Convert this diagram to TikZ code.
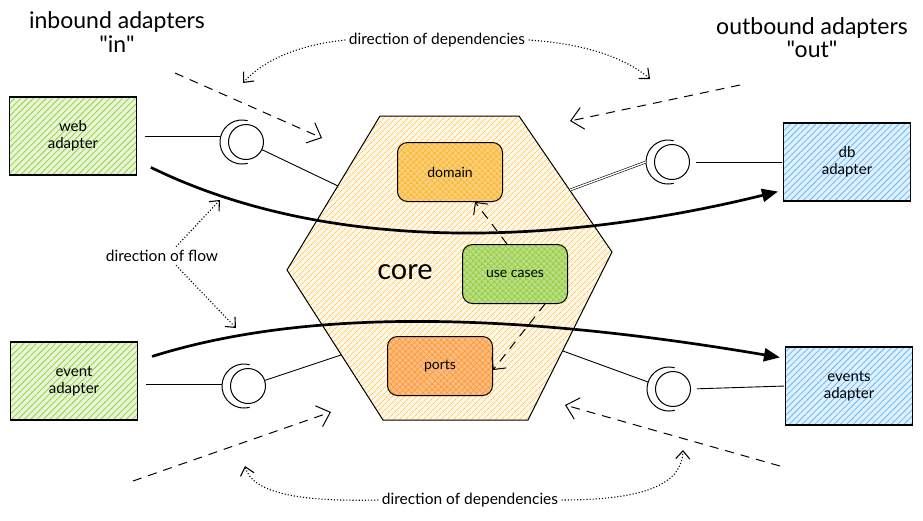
\documentclass[tikz,border=0pt]{standalone}
\usepackage{fontspec}
\setmainfont{Lato}
\newfontfamily\plainlato{Lato}
\usepackage{tikz}
\usetikzlibrary{arrows.meta,positioning,patterns.meta}
\definecolor{leaf}{HTML}{82C91E}
\definecolor{sky}{HTML}{4DABF7}
\definecolor{sand}{HTML}{FFC34A}
\definecolor{gold}{HTML}{F9B52E}
\definecolor{lime}{HTML}{94CC3E}
\definecolor{tang}{HTML}{FA9838}

\tikzset{
  txt/.style={font=\fontsize{15.5}{17}\selectfont},
  head/.style={font=\fontsize{23}{25}\selectfont},
  adapter/.style={draw,line width=1.1pt,minimum width=127pt,minimum height=78pt,
    align=center,font=\fontsize{15}{17}\selectfont,preaction={fill=#1!18},
    pattern={Lines[angle=45,distance=4.5pt,line width=0.8pt]},pattern color=#1!85},
  part/.style={draw,line width=1pt,rounded corners=10pt,minimum width=105pt,
    minimum height=59pt,font=\fontsize{14}{16}\selectfont,preaction={fill=#1!65},
    pattern={Hatch[angle=45,distance=4pt,line width=0.7pt]},pattern color=#1},
  plug/.style={draw,circle,minimum size=35pt,inner sep=0pt,line width=1pt},
  socket/.style={line width=1pt},
  wire/.style={line width=0.9pt},
  flow/.style={line width=2.7pt,-{Triangle[length=16pt,width=13pt]}},
  dep/.style={line width=1pt,dash pattern=on 9pt off 7pt,
    -{Straight Barb[length=12pt,width=22pt]}},
  hint/.style={line width=1.1pt,dotted,-{Straight Barb[length=8pt,width=14pt]}},
}

\begin{document}
\begin{tikzpicture}[x=1pt,y=-1pt]
\useasboundingbox (0,0) rectangle (923,520);

\node[head] (tin) at (117,22) {inbound adapters};
\node[head,below=-4pt of tin] (qin) {\plainlato "in"};
\node[head] (tout) at (812,28) {outbound adapters};
\node[head,below=-4pt of tout] (qout) {\plainlato "out"};

\draw[line width=1pt,preaction={fill=sand!12},
  pattern={Lines[angle=45,distance=4pt,line width=0.8pt]},pattern color=sand!90]
  (380,116) -- (519,116) -- (612,252) -- (528,420) -- (383,420) -- (287,270) -- cycle;
\coordinate (hw) at (338,186);
\coordinate (hd) at (570,190);
\coordinate (he) at (341,355);
\coordinate (hv) at (563,351);

\node[font=\fontsize{29}{31}\selectfont] (core) at (405,272) {core};
\node[part=gold] (domain) at (450,172) {domain};
\node[part=lime] (cases) at (515,274) {use cases};
\node[part=tang] (ports) at (440,366) {ports};
\draw[dep,-{Straight Barb[length=9pt,width=18pt]}] ([xshift=-8pt]cases.north) -- ([xshift=25pt]domain.south);
\draw[dep,-{Straight Barb[length=9pt,width=18pt]}] ([xshift=30pt]cases.south) -- ([yshift=-4pt]ports.east);

\node[adapter=leaf] (web) at (73,136) {web\\adapter};
\node[adapter=leaf] (event) at (74,381) {event\\adapter};
\node[adapter=sky] (db) at (847,162) {db\\adapter};
\node[adapter=sky] (events) at (849,386) {events\\adapter};

\node[plug] (pw) at (246,142) {};
\node[plug] (pd) at (672,162) {};
\node[plug] (pe) at (248,386) {};
\node[plug] (pv) at (673,389) {};
\foreach \p in {pw,pd,pe,pv}
  \draw[socket] ([xshift=-4pt]\p.center) ++(285:22) arc (285:75:22);

\draw[wire,shorten <=8pt,shorten >=8pt] (web.east) -- (web.east -| pw.west);
\draw[wire] (pw) -- (hw);
\draw[wire,shorten <=6pt,shorten >=1pt] (pd.east) -- (db.west);
\draw[line width=0.6pt,double,double distance=1.4pt] (hd) -- ([xshift=-26pt]pd.center);
\draw[wire,shorten <=8pt,shorten >=8pt] ([yshift=-3pt]event.east) -- ([yshift=-3pt]event.east -| pe.west);
\draw[wire] (pe) -- (he);
\draw[wire,shorten <=6pt,shorten >=1pt] (pv.east) -- (events.west);
\draw[wire] ([shift={(-25,-7)}]pv.center) -- (hv);

\draw[flow] ([shift={(14,-8)}]web.south east) .. controls (330,255) and (560,245) .. ([shift={(-5,-10)}]db.south west);
\draw[flow] ([shift={(14,15)}]event.north east) .. controls (300,310) and (500,310) .. ([shift={(-5,11)}]events.north west);

\coordinate (tl0) at (175,73);
\coordinate (tl1) at (322,138);
\coordinate (tr0) at (740,85);
\coordinate (tr1) at (570,121);
\coordinate (bl0) at (133,481);
\coordinate (bl1) at (331,412);
\coordinate (br0) at (780,466);
\coordinate (br1) at (565,405);
\draw[dep] (tl0) -- (tl1);
\draw[dep] (tr0) -- (tr1);
\draw[dep] (bl0) -- (bl1);
\draw[dep] (br0) -- (br1);

\node[txt] (dtop) at (437,40) {direction of dependencies};
\node[txt] (dbot) at (470,500) {direction of dependencies};
\node[txt] (dflow) at (162,256) {direction of flow};
\coordinate (ta) at (243,83);
\coordinate (tb) at (650,79);
\coordinate (ba) at (245,466);
\coordinate (bb) at (683,450);
\coordinate (fa) at (220,200);
\coordinate (fb) at (236,328);
\draw[hint] (dtop.west) .. controls (288,46) and (258,66) .. (ta);
\draw[hint] (dtop.east) .. controls (590,44) and (628,60) .. (tb);
\draw[hint] (dbot.west) .. controls (295,502) and (252,492) .. (ba);
\draw[hint] (dbot.east) .. controls (650,500) and (682,482) .. (bb);
\draw[hint] ([xshift=14pt]dflow.north) -- (fa);
\draw[hint] ([xshift=14pt]dflow.south) -- (fb);
\end{tikzpicture}
\end{document}
